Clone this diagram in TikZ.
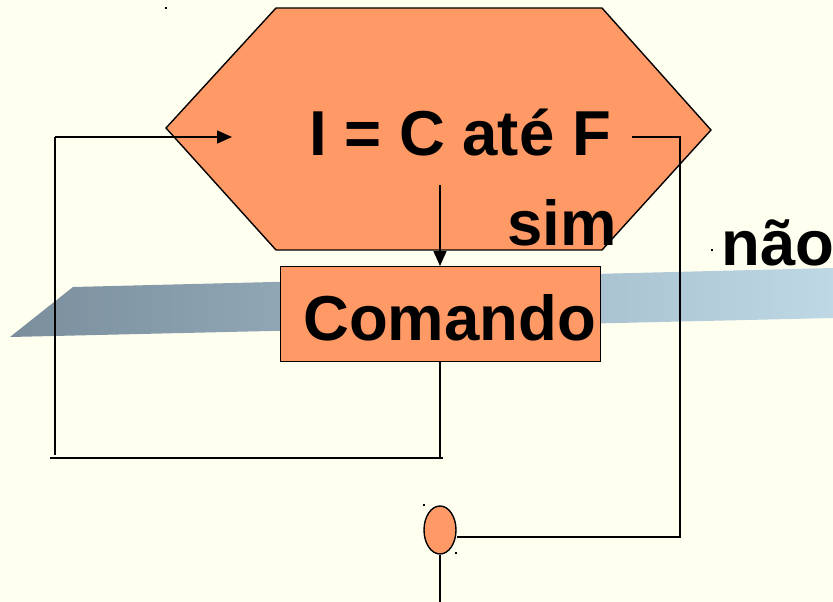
\documentclass[tikz,border=0pt]{standalone}
\usepackage{fontspec}
\setmainfont{Liberation Sans}
\usetikzlibrary{arrows.meta,shapes.geometric}
\definecolor{paper}{RGB}{255,255,240}
\definecolor{boxfill}{RGB}{255,153,102}
\definecolor{bandleft}{RGB}{122,142,156}
\definecolor{bandright}{RGB}{190,216,230}
\tikzset{
  flowline/.style={draw=black,line width=1.6pt},
  flowarrow/.style={flowline,-{Triangle[length=15pt,width=13pt]}},
  shapebox/.style={draw=black,line width=1.4pt,fill=boxfill},
  label/.style={inner sep=0pt,anchor=base west,font=\bfseries\fontsize{63.5}{63.5}\selectfont},
  speck/.style={fill=black,inner sep=0pt,minimum size=2pt},
}
\begin{document}
\begin{tikzpicture}[x=1pt,y=-1pt]
  % page background
  \fill[paper] (0,0) rectangle (833,602);
  \useasboundingbox (0,0) rectangle (833,602);

  % shaded band behind the command box
  \shade[left color=bandleft,right color=bandright]
    (10,337) -- (73,287) -- (833,268) -- (833,318) -- cycle;

  % loop header hexagon
  \draw[shapebox] (166,128) -- (276,8) -- (602,8) -- (711,130)
                  -- (602,250) -- (276,250) -- cycle;
  \node[label] (head) at (309,155) {I = C até F};
  \node[label] (yes)  at (507,245) {sim};
  \node[label] (no)   at (721,265) {não};

  % loop body
  \node[shapebox,minimum width=320pt,minimum height=95pt,inner sep=0pt,anchor=north west]
    (body) at (280,266) {};
  \node[label] (cmd) at (303,340) {Comando};

  % exit connector
  \node[shapebox,shape=ellipse,minimum width=32pt,minimum height=48pt,inner sep=0pt]
    (join) at (440,530) {};

  % connector anchor points
  \coordinate (headlow) at (440,185);
  \coordinate (bodyout) at (440,361);
  \coordinate (backcorner) at (440,458);
  \coordinate (leftbottom) at (55,458);
  \coordinate (lefttop) at (55,137);
  \coordinate (entry) at (232,137);
  \coordinate (exitstart) at (632,137);
  \coordinate (exitcorner) at (680,137);
  \coordinate (exitlow) at (680,537);
  \coordinate (tail) at (440,602);

  % connectors
  \draw[flowarrow] (headlow) -- (body.north -| headlow);
  \draw[flowline] (bodyout) -- (backcorner) -- ([xshift=3pt]backcorner);
  \draw[flowline] ([xshift=-5pt]leftbottom) -- (backcorner);
  \draw[flowline] ([yshift=3pt]leftbottom) -- (lefttop);
  \draw[flowarrow] (lefttop) -- (entry);
  \draw[flowline] (exitstart) -- (exitcorner) -- (exitlow) -- (join.east |- exitlow);
  \draw[flowline] (join.south) -- (tail);

  % small marks
  \node[speck] (m1) at (166,8) {};
  \node[speck] (m2) at (712,250) {};
  \node[speck] (m3) at (424,505) {};
  \node[speck] (m4) at (456,553) {};
\end{tikzpicture}
\end{document}
